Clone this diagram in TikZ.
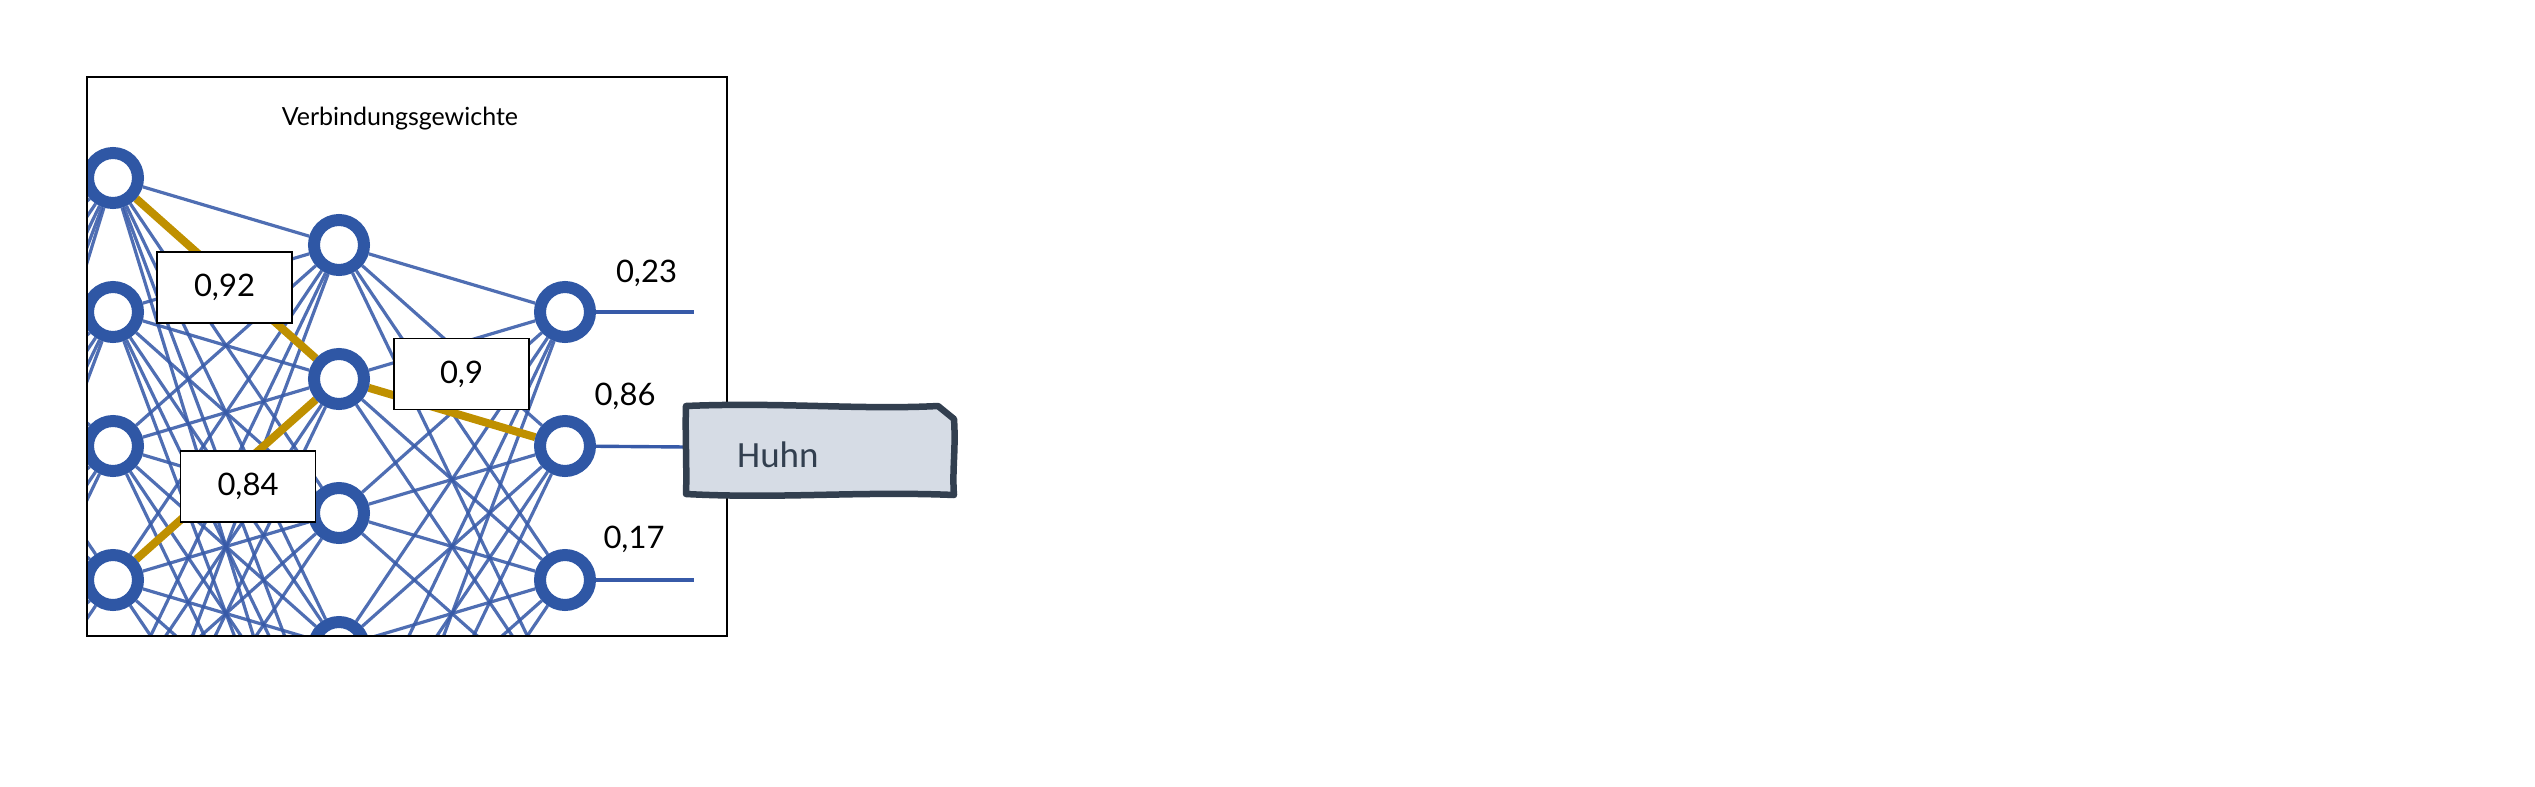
\documentclass[tikz,border=0pt]{standalone}
\usepackage{fontspec}
\setmainfont{Lato}
\newfontfamily\huhnfont{Carlito}
\pgfdeclarelayer{edges}
\pgfsetlayers{edges,main}
\definecolor{nblue}{RGB}{47,87,165}
\definecolor{lblue}{RGB}{55,90,168}
\definecolor{wgold}{RGB}{191,144,0}
\definecolor{slate}{RGB}{50,63,79}
\definecolor{pale}{RGB}{214,220,229}
\begin{document}
\begin{tikzpicture}[x=1pt,y=-1pt,
  neuron/.style={circle,draw=nblue,line width=12pt,fill=white,minimum size=50pt,inner sep=0pt},
  conn/.style={draw=lblue,line width=3.2pt,opacity=0.88},
  outconn/.style={draw=lblue,line width=3.4pt},
  hot/.style={draw=wgold,line width=8pt},
  wbox/.style={draw=black,line width=1.4pt,fill=white,minimum width=135pt,minimum height=71pt,inner sep=0pt,font=\fontsize{31}{37}\selectfont},
  outlab/.style={font=\fontsize{31}{37}\selectfont,inner sep=0pt,anchor=base},
]
\useasboundingbox (0,0) rectangle (2535,787);
\begin{scope}
  \clip (87,77) rectangle (727,636);
  \foreach \i in {0,...,5} {
    \node[neuron] (z\i) at (-113,{245+134*\i}) {};
    \node[neuron] (a\i) at (113,{178+134*\i}) {};
    \node[neuron] (b\i) at (339,{245+134*\i}) {};
  }
  \foreach \i in {0,...,3} \node[neuron] (c\i) at (565,{312+134*\i}) {};
  \begin{pgfonlayer}{edges}
    \clip (87,77) rectangle (727,636);
    \foreach \i in {0,...,5} \foreach \j in {0,...,5} {
      \draw[conn] (z\i) -- (a\j);
      \draw[conn] (a\i) -- (b\j);
    }
    \foreach \i in {0,...,5} \foreach \j in {0,...,3} \draw[conn] (b\i) -- (c\j);
    \draw[hot] (a0) -- (b1);
    \draw[hot] (a3) -- (b1);
    \draw[hot] (b1) -- (c1);
  \end{pgfonlayer}
\end{scope}
\coordinate (o0) at (694,312);
\coordinate (o2) at (694,580);
\coordinate (huhnw) at (686,447);
\draw[outconn] (c0) -- (o0);
\draw[outconn] (c2) -- (o2);
\draw[outconn] (c1) -- (huhnw);
\node[wbox] (w92) at (224.5,287.5) {0,92};
\node[wbox] (w84) at (248,486.5) {0,84};
\node[wbox] (w9) at (461.5,374) {0,9};
\node[outlab] (l23) at (646.5,282) {0,23};
\node[outlab] (l86) at (625,405) {0,86};
\node[outlab] (l17) at (634,548) {0,17};
\node[font=\fontsize{25}{30}\selectfont,anchor=base,inner sep=0pt] (title) at (400,125) {Verbindungsgewichte};
\draw[line width=1.5pt] (87,77) rectangle (727,636);
\draw[slate,line width=6.5pt,fill=pale,line join=round]
  (686,406) .. controls (780,402) and (860,410) .. (938,406) -- (954,419)
  .. controls (956,450) and (952,470) .. (954,495)
  .. controls (860,491) and (780,499) .. (686,494)
  .. controls (687,470) and (685,430) .. cycle;
\node[font=\huhnfont\fontsize{37}{44}\selectfont,text=slate,anchor=base west,inner sep=0pt] (huhn) at (737,467) {Huhn};
\end{tikzpicture}
\end{document}
